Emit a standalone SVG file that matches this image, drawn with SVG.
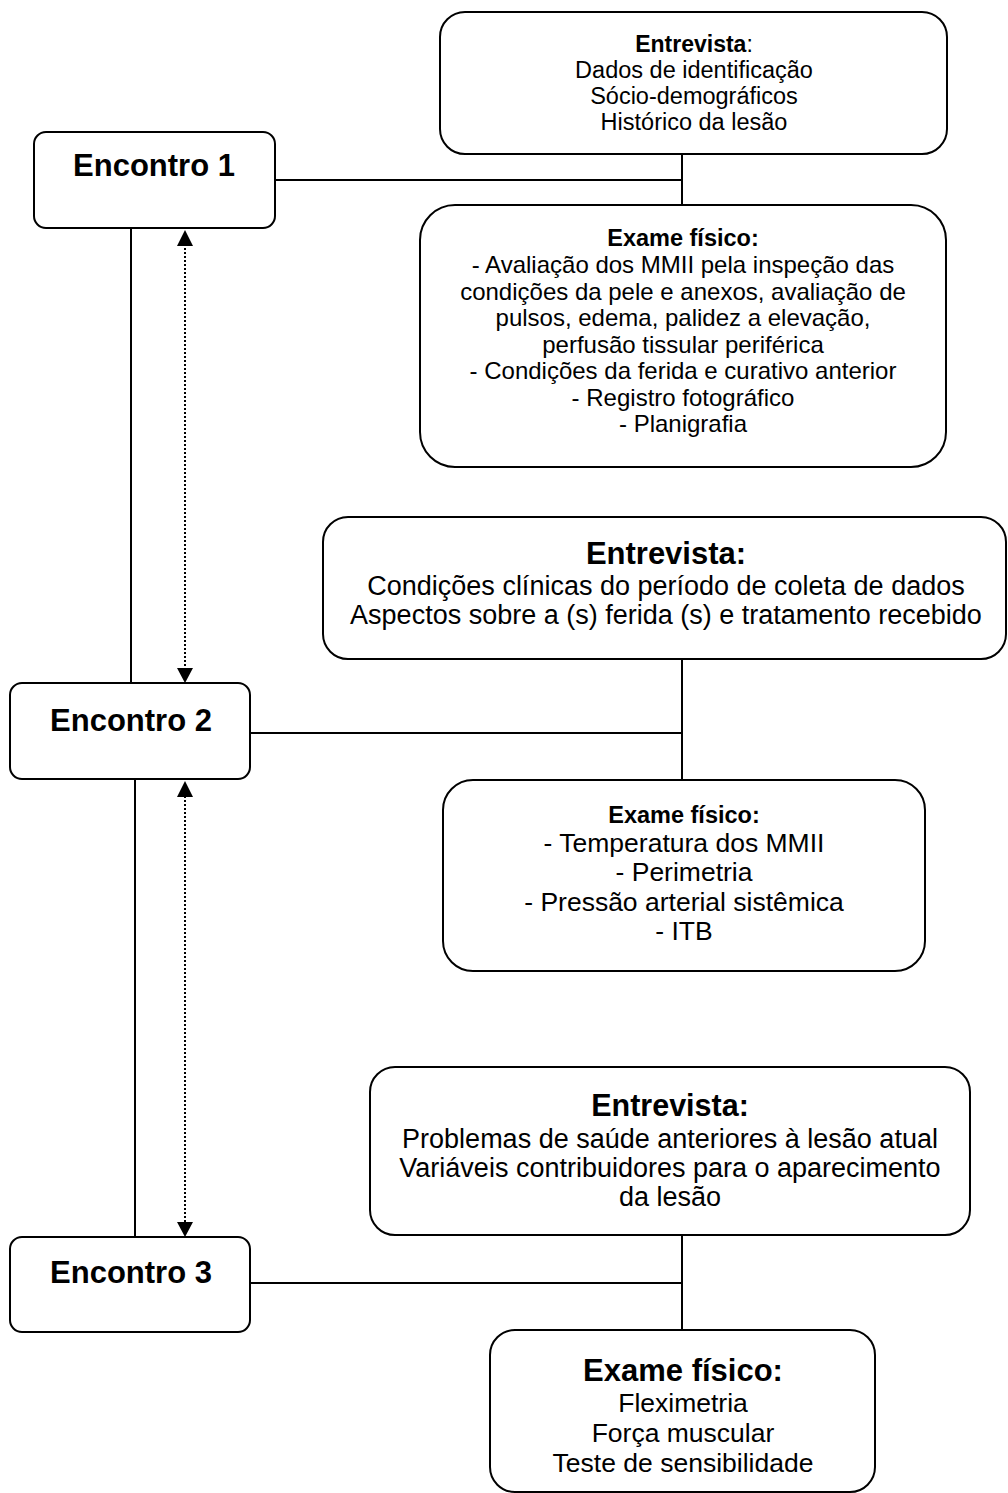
<svg xmlns="http://www.w3.org/2000/svg" width="1008" height="1493" viewBox="0 0 1008 1493">
<style>
  .box { fill: #fff; stroke: #000; stroke-width: 2; }
  .ln { stroke: #000; stroke-width: 2; fill: none; }
  .dot { stroke: #000; stroke-width: 2; stroke-dasharray: 2 2; fill: none; }
  .head { fill: #000; }
  text { font-family: "Liberation Sans", Arial, sans-serif; fill: #000; text-anchor: middle; }
  .b { font-weight: bold; }
  .enc { font-size: 31px; font-weight: bold; }
</style>
<rect width="1008" height="1493" fill="#fff"/>
<g id="connectors">
  <path class="ln" d="M275,180 H682"/>
  <path class="ln" d="M682,154 V205"/>
  <path class="ln" d="M131,228 V683"/>
  <path class="dot" d="M185,244 V670"/>
  <path class="head" d="M185,230 L177,246 L193,246 z"/>
  <path class="head" d="M185,683 L177,668 L193,668 z"/>
  <path class="ln" d="M682,659 V780"/>
  <path class="ln" d="M250,733 H682"/>
  <path class="ln" d="M135,779 V1237"/>
  <path class="dot" d="M185,796 V1223"/>
  <path class="head" d="M185,781 L177,797 L193,797 z"/>
  <path class="head" d="M185,1237 L177,1222 L193,1222 z"/>
  <path class="ln" d="M682,1235 V1330"/>
  <path class="ln" d="M250,1283 H682"/>
</g>
<g id="entrevista1">
  <rect class="box" x="440" y="12" width="507" height="142" rx="25"/>
  <text x="694" y="52" style="font-size:23px"><tspan class="b">Entrevista</tspan>:</text>
  <g style="font-size:23.5px">
    <text x="694" y="78">Dados de identificação</text>
    <text x="694" y="104">Sócio-demográficos</text>
    <text x="694" y="130">Histórico da lesão</text>
  </g>
</g>
<g id="encontro1">
  <rect class="box" x="34" y="132" width="241" height="96" rx="12"/>
  <text class="enc" x="154" y="176">Encontro 1</text>
</g>
<g id="exame1">
  <rect class="box" x="420" y="205" width="526" height="262" rx="35"/>
  <text class="b" x="683" y="246" style="font-size:23.5px">Exame físico:</text>
  <g style="font-size:24px">
    <text x="683" y="273">- Avaliação dos MMII pela inspeção das</text>
    <text x="683" y="299.5">condições da pele e anexos, avaliação de</text>
    <text x="683" y="326">pulsos, edema, palidez a elevação,</text>
    <text x="683" y="352.5">perfusão tissular periférica</text>
    <text x="683" y="379">- Condições da ferida e curativo anterior</text>
    <text x="683" y="405.5">- Registro fotográfico</text>
    <text x="683" y="432">- Planigrafia</text>
  </g>
</g>
<g id="entrevista2">
  <rect class="box" x="323" y="517" width="683" height="142" rx="25"/>
  <text class="b" x="666" y="564" style="font-size:31px">Entrevista:</text>
  <g style="font-size:27px">
    <text x="666" y="595">Condições clínicas do período de coleta de dados</text>
    <text x="666" y="624">Aspectos sobre a (s) ferida (s) e tratamento recebido</text>
  </g>
</g>
<g id="encontro2">
  <rect class="box" x="10" y="683" width="240" height="96" rx="12"/>
  <text class="enc" x="131" y="731">Encontro 2</text>
</g>
<g id="exame2">
  <rect class="box" x="443" y="780" width="482" height="191" rx="30"/>
  <text class="b" x="684" y="823" style="font-size:23.5px">Exame físico:</text>
  <g style="font-size:26.5px">
    <text x="684" y="852">- Temperatura dos MMII</text>
    <text x="684" y="881">- Perimetria</text>
    <text x="684" y="911">- Pressão arterial sistêmica</text>
    <text x="684" y="940">- ITB</text>
  </g>
</g>
<g id="entrevista3">
  <rect class="box" x="370" y="1067" width="600" height="168" rx="25"/>
  <text class="b" x="670" y="1116" style="font-size:30.5px">Entrevista:</text>
  <g style="font-size:27px">
    <text x="670" y="1148">Problemas de saúde anteriores à lesão atual</text>
    <text x="670" y="1177">Variáveis contribuidores para o aparecimento</text>
    <text x="670" y="1206">da lesão</text>
  </g>
</g>
<g id="encontro3">
  <rect class="box" x="10" y="1237" width="240" height="95" rx="12"/>
  <text class="enc" x="131" y="1283">Encontro 3</text>
</g>
<g id="exame3">
  <rect class="box" x="490" y="1330" width="385" height="162" rx="25"/>
  <text class="b" x="683" y="1381" style="font-size:31px">Exame físico:</text>
  <g style="font-size:26.5px">
    <text x="683" y="1412">Fleximetria</text>
    <text x="683" y="1442">Força muscular</text>
    <text x="683" y="1472">Teste de sensibilidade</text>
  </g>
</g>
</svg>
